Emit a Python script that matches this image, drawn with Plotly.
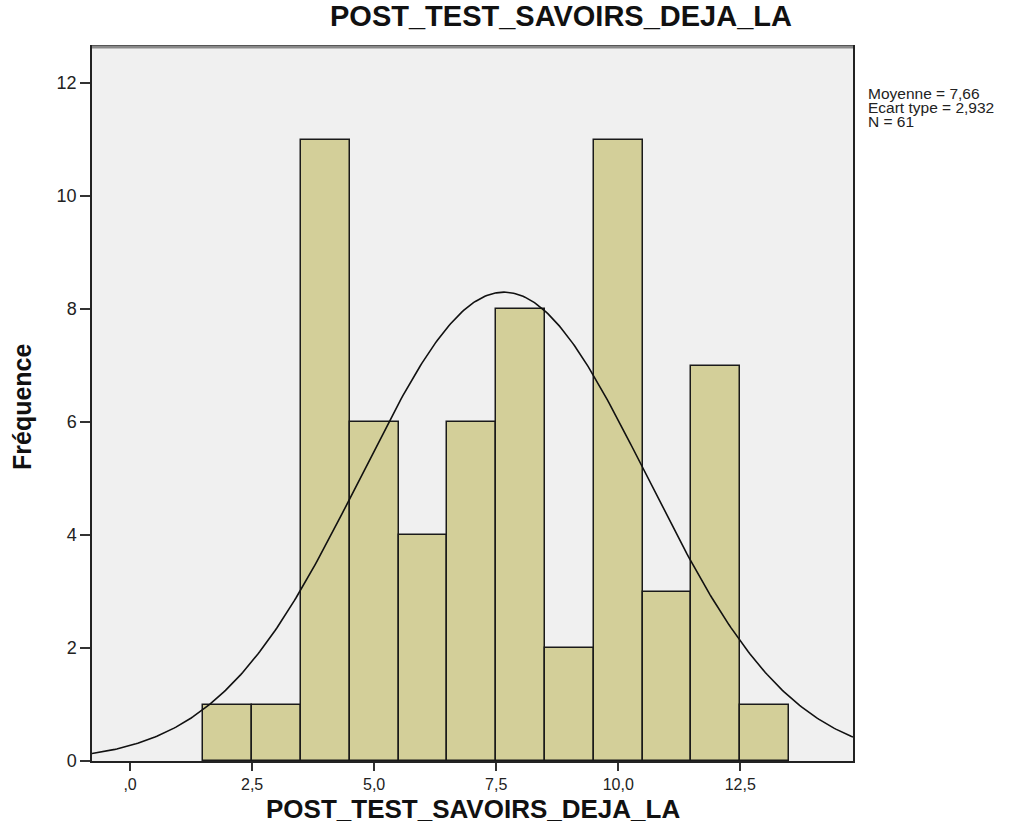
import numpy as np
import plotly.graph_objects as go

# Histogram of the post-test scores (bin width 1)
bin_centers = [2, 3, 4, 5, 6, 7, 8, 9, 10, 11, 12, 13]
frequencies = [1, 1, 11, 6, 4, 6, 8, 2, 11, 3, 7, 1]

mean_value = 7.66
std_value = 2.932
n_value = 61
bin_width = 1.0

x_tick_values = [0, 2.5, 5, 7.5, 10, 12.5]
x_tick_labels = [",0", "2,5", "5,0", "7,5", "10,0", "12,5"]
y_tick_values = [0, 2, 4, 6, 8, 10, 12]

stats_lines = [
    f"Moyenne = {mean_value:.2f}".replace(".", ","),
    f"Ecart type = {std_value:.3f}".replace(".", ","),
    f"N = {n_value}",
]

x_range = [-0.78, 14.81]
y_range = [0, 12.64]

# Normal curve scaled to counts
xs = np.linspace(x_range[0], x_range[1], 400)
ys = n_value * bin_width / (std_value * np.sqrt(2 * np.pi)) * np.exp(-0.5 * ((xs - mean_value) / std_value) ** 2)

font_family = "Liberation Sans, Arial, sans-serif"
L, R, T, B = 92, 177, 47, 79
plot_w = 1030 - L - R

fig = go.Figure()
fig.add_trace(go.Bar(
    x=bin_centers, y=frequencies, width=bin_width,
    marker=dict(color="#D3CF99", line=dict(color="#1a1a1a", width=1.5)),
    hoverinfo="x+y", showlegend=False,
))
fig.add_trace(go.Scatter(
    x=xs, y=ys, mode="lines",
    line=dict(color="#111111", width=1.6),
    hoverinfo="skip", showlegend=False,
))

fig.update_layout(
    width=1030, height=840,
    margin=dict(l=L, r=R, t=T, b=B),
    paper_bgcolor="white",
    plot_bgcolor="#F0F0F0",
    bargap=0,
    font=dict(family=font_family, color="#222222", size=17),
    xaxis=dict(
        range=x_range, tickvals=x_tick_values, ticktext=x_tick_labels,
        showgrid=False, zeroline=False,
        showline=True, linecolor="#222222", linewidth=1.5, mirror=True,
        ticks="outside", ticklen=8, tickwidth=2, tickcolor="#333333",
        tickfont=dict(size=16, color="#222222"),
    ),
    yaxis=dict(
        range=y_range, tickvals=y_tick_values,
        showgrid=False, zeroline=False,
        showline=True, linecolor="#222222", linewidth=1.5, mirror=True,
        ticks="outside", ticklen=10, tickwidth=2, tickcolor="#333333",
        tickfont=dict(size=18, color="#222222"),
    ),
)

# Gray top edge of the frame
fig.add_shape(type="line", xref="paper", yref="paper", x0=0, x1=1, y0=1, y1=1,
              line=dict(color="#8a8a8a", width=3))

# Chart title
fig.add_annotation(
    text="<b>POST_TEST_SAVOIRS_DEJA_LA</b>", xref="paper", yref="paper",
    x=(561 - L) / plot_w, xanchor="center", y=1, yanchor="bottom", yshift=13, showarrow=False,
    font=dict(size=29, color="#111111"),
)

# Axis titles
fig.add_annotation(
    text="<b>POST_TEST_SAVOIRS_DEJA_LA</b>", xref="paper", yref="paper",
    x=(473 - L) / plot_w, xanchor="center", y=0, yanchor="top", yshift=-31, showarrow=False,
    font=dict(size=26, color="#111111"),
)
fig.add_annotation(
    text="<b>Fréquence</b>", xref="paper", yref="paper",
    x=0, xanchor="center", xshift=-70, y=0.5, yanchor="middle", yshift=-3,
    textangle=-90, showarrow=False,
    font=dict(size=25, color="#111111"),
)

# Summary statistics
for i, line in enumerate(stats_lines):
    fig.add_annotation(
        text=line, xref="paper", yref="paper", x=1, xshift=13, y=1, yshift=-36 - 14 * i,
        xanchor="left", yanchor="top", align="left", showarrow=False,
        font=dict(size=15.5, color="#222222"),
    )

fig.write_html("out.html")
